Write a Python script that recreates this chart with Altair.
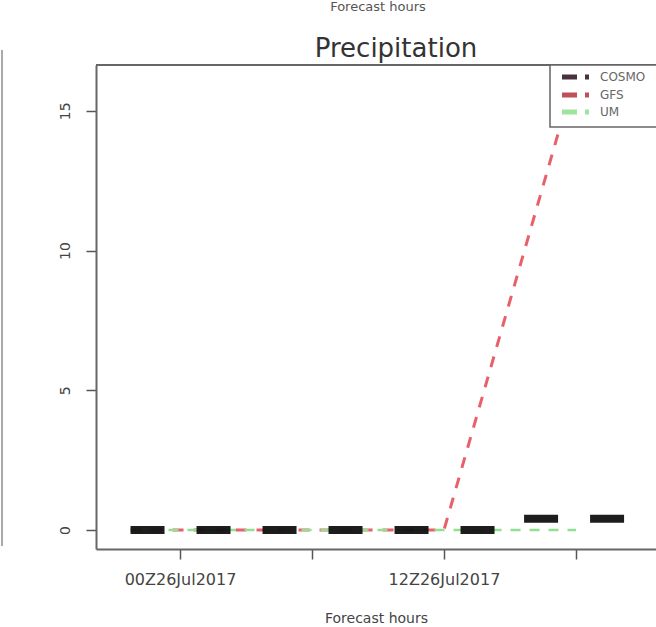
import altair as alt
import pandas as pd

# ---- data (hours relative to 00Z26Jul2017, precipitation in mm) ----
cosmo_hours = [-2.25, 0, 3, 6, 9, 12, 14.5, 15.6, 18, 21, 22.5]
cosmo_vals = [0, 0, 0, 0, 0, 0, 0, 0.4, 0.4, 0.4, 0.4]
gfs_hours = [-2.25, 0, 6, 12, 18]
gfs_vals = [0, 0, 0, 0, 16.4]
um_hours = [-2.25, 0, 6, 12, 18]
um_vals = [0, 0, 0, 0, 0]

series_names = ["COSMO", "GFS", "UM"]
x_tick_values = [0, 6, 12, 18]
x_tick_labels = {0: "00Z26Jul2017", 12: "12Z26Jul2017"}
y_tick_values = [0, 5, 10, 15]
title_text = "Precipitation"
x_title = "Forecast hours"

FONT = "DejaVu Sans"
W, H = 560, 484

df_cosmo = pd.DataFrame({"hour": cosmo_hours, "value": cosmo_vals})
df_gfs = pd.DataFrame({"hour": gfs_hours, "value": gfs_vals})
df_um = pd.DataFrame({"hour": um_hours, "value": um_vals})

label_expr = " : ".join(
    f"datum.value == {k} ? '{v}'" for k, v in x_tick_labels.items()
) + " : ''"

x_enc = alt.X(
    "hour:Q",
    scale=alt.Scale(domain=[-3.82, 21.64], nice=False, zero=False),
    axis=alt.Axis(
        values=x_tick_values, labelExpr=label_expr, grid=False,
        tickSize=10, tickColor="#555", tickWidth=1.5,
        domain=True, domainColor="#666", domainWidth=2,
        labelFont=FONT, labelFontSize=16, labelColor="#444", labelPadding=12,
        labelOverlap=False,
        title=x_title, titleFont=FONT, titleFontSize=14,
        titleFontWeight="normal", titleColor="#444",
        titleY=69, titleBaseline="middle",
    ),
)
y_enc = alt.Y(
    "value:Q",
    scale=alt.Scale(domain=[-0.68, 16.64], nice=False, zero=False),
    axis=alt.Axis(
        values=y_tick_values, grid=False,
        tickSize=10, tickColor="#555", tickWidth=1.5,
        domain=True, domainColor="#666", domainWidth=2,
        labelFont=FONT, labelFontSize=14, labelColor="#444",
        labelAngle=-90, labelAlign="center", labelBaseline="bottom",
        labelPadding=14, title=None,
    ),
)

gfs = alt.Chart(df_gfs).mark_line(
    clip=True, color="#e8606a", strokeWidth=3, strokeDash=[11, 10], strokeCap="butt"
).encode(x=x_enc, y=y_enc)
um = alt.Chart(df_um).mark_line(
    clip=True, color="#8fe08f", strokeWidth=2.5, strokeDash=[10, 9], strokeCap="butt"
).encode(x=x_enc, y=y_enc)
cosmo = alt.Chart(df_cosmo).mark_line(
    clip=True, color="#111111", strokeWidth=8, strokeDash=[34, 32], strokeCap="butt",
    opacity=0.95,
).encode(x=x_enc, y=y_enc)

one = pd.DataFrame({"a": [0]})

# frame: top border, title, legend box, neighbouring-panel remnants
top_border = alt.Chart(one).mark_rule(color="#666", strokeWidth=2).encode(
    x=alt.value(0), x2=alt.value(W), y=alt.value(0)
)
left_panel_line = alt.Chart(one).mark_rule(color="#aaa", strokeWidth=2).encode(
    x=alt.value(-94), y=alt.value(-15), y2=alt.value(481)
)
top_text = alt.Chart(one).mark_text(
    text=x_title, font=FONT, fontSize=13, color="#555", baseline="middle"
).encode(x=alt.value(282), y=alt.value(-58))
title = alt.Chart(one).mark_text(
    text=title_text, font=FONT, fontSize=26, color="#333",
    baseline="alphabetic", align="center",
).encode(x=alt.value(300), y=alt.value(-8))

legend_box = alt.Chart(one).mark_rect(
    fill="white", stroke="#666", strokeWidth=1.5
).encode(x=alt.value(454), x2=alt.value(620), y=alt.value(0), y2=alt.value(62))

legend_layers = []
legend_colors = ["#4a3040", "#c05058", "#9fe39f"]
legend_y = [12, 30, 47]
for name, col, yy in zip(series_names, legend_colors, legend_y):
    legend_layers.append(
        alt.Chart(one).mark_rule(color=col, strokeWidth=5, strokeDash=[15, 8], strokeCap="butt").encode(
            x=alt.value(466), x2=alt.value(493), y=alt.value(yy)
        )
    )
    legend_layers.append(
        alt.Chart(one).mark_text(
            text=name, font=FONT, fontSize=12, color="#666", align="left", baseline="middle"
        ).encode(x=alt.value(504), y=alt.value(yy))
    )

chart = alt.layer(
    gfs, um, cosmo, top_border, left_panel_line, top_text, title, legend_box, *legend_layers
).properties(
    width=W, height=H,
    autosize=alt.AutoSizeParams(type="none"),
    padding={"left": 96, "top": 65, "right": 0, "bottom": 78},
    background="white",
).configure_view(stroke=None)

chart.save("out.html", embed_options={"renderer": "svg", "actions": False})
